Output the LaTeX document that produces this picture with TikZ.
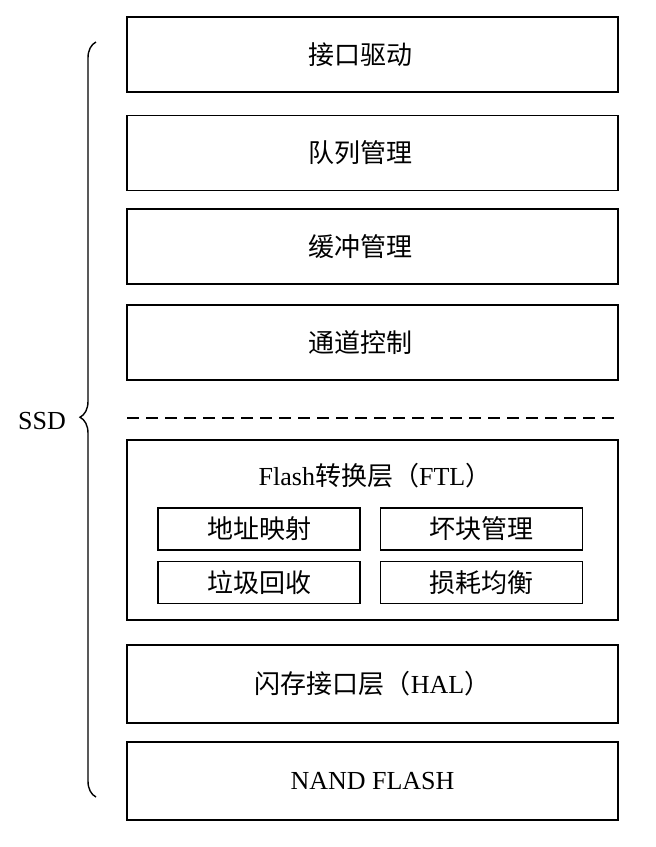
\documentclass[tikz,border=0pt]{standalone}
\usepackage{fontspec}
\setmainfont{Liberation Serif}
\newfontfamily\cjk{Noto Sans CJK SC}
\usetikzlibrary{decorations.pathreplacing}
\newcommand{\leftpad}[1]{#1\hspace*{24pt}}
\tikzset{
  layer/.style={draw, line width=1.6pt, minimum width=491pt, minimum height=75pt, inner sep=0pt, font=\fontsize{26}{30}\selectfont},
  sublayer/.style={draw, line width=1.5pt, minimum width=202pt, minimum height=42pt, inner sep=0pt, font=\fontsize{26}{30}\selectfont}
}
\begin{document}
\begin{tikzpicture}[x=1pt, y=-1pt]
  \useasboundingbox (0,0) rectangle (656,847);

  % upper layers
  \node[layer] (drv) at (372.5,54.5) {\leftpad{\cjk 接口驱动}};
  \node[layer] (queue) at (372.5,153) {\leftpad{\cjk 队列管理}};
  \node[layer] (buf) at (372.5,246.5) {\leftpad{\cjk 缓冲管理}};
  \node[layer] (chan) at (372.5,342.5) {\leftpad{\cjk 通道控制}};

  % separator
  \coordinate (sepl) at (127,418);
  \coordinate (sepr) at (618,418);
  \draw[line width=1.5pt, dash pattern=on 12pt off 7pt] (sepl) -- (sepr);

  % FTL
  \node[layer, minimum height=180pt] (ftl) at (372.5,530) {};
  \node[font=\fontsize{26}{30}\selectfont] (ftltitle) at (375,476) {Flash{\cjk 转换层（}FTL{\cjk ）}};
  \node[sublayer] (map) at (259,529) {\cjk 地址映射};
  \node[sublayer] (bad) at (481.5,529) {\cjk 坏块管理};
  \node[sublayer] (gc) at (259,582.5) {\cjk 垃圾回收};
  \node[sublayer] (wear) at (481.5,582.5) {\cjk 损耗均衡};

  % lower layers
  \node[layer, minimum height=78pt] (hal) at (372.5,684) {{\cjk 闪存接口层（}HAL{\cjk ）}};
  \node[layer, minimum height=78pt] (nand) at (372.5,781) {NAND FLASH};

  % SSD brace
  \coordinate (bbot) at (96,797);
  \coordinate (btop) at (96,42);
  \draw[line width=1.4pt, decorate, decoration={brace, amplitude=16pt, aspect=0.503}] (bbot) -- (btop);
  \node[font=\fontsize{26}{30}\selectfont] (ssd) at (42,421) {SSD};
\end{tikzpicture}
\end{document}
